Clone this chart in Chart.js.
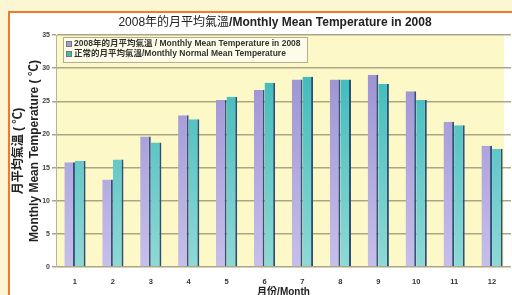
<!DOCTYPE html>
<html>
<head>
<meta charset="utf-8">
<script src="https://cdn.jsdelivr.net/npm/chart.js@4.4.0/dist/chart.umd.min.js"></script>
<style>
    html, body { margin: 0; padding: 0; overflow: hidden; background: #FDF6D3; }
    #wrap { position: relative; width: 512px; height: 305px; }
</style>
</head>
<body>
<div id="wrap"><canvas id="myChart"></canvas></div>
<script>
// Dữ liệu
const months = ['1', '2', '3', '4', '5', '6', '7', '8', '9', '10', '11', '12'];
const temp2008 = [15.8, 13.2, 19.7, 22.9, 25.2, 26.7, 28.3, 28.3, 29.0, 26.5, 21.9, 18.3];
const tempNormal = [16.0, 16.2, 18.8, 22.3, 25.7, 27.8, 28.7, 28.3, 27.6, 25.2, 21.4, 17.8];
const label2008 = '2008年的月平均氣溫 / Monthly Mean Temperature in 2008';
const labelNormal = '正常的月平均氣溫/Monthly Normal Mean Temperature';
const titleZh = '2008年的月平均氣溫';
const titleEn = '/Monthly Mean Temperature in 2008';
const yTitle = ['月平均氣溫 ( ℃)', 'Monthly Mean Temperature ( ℃)'];
const xTitle = '月份/Month';

const FONT = '"Liberation Sans", "Noto Sans CJK TC", Arial, sans-serif';
Chart.defaults.font.family = FONT;
Chart.defaults.color = '#333';

// Màu gradient cho cột
function barGradient(top, bottom) {
    return function (context) {
        let chart = context.chart;
        let area = chart.chartArea;
        if (!area) return top;
        let g = chart.ctx.createLinearGradient(0, area.top, 0, area.bottom);
        g.addColorStop(0, top);
        g.addColorStop(1, bottom);
        return g;
    };
}

// Nền, khung cam, tiêu đề và chú thích
const decorPlugin = {
    id: 'decor',
    beforeDraw(chart) {
        const c = chart.ctx;
        const a = chart.chartArea;
        c.save();
        c.fillStyle = '#FDF6D3';
        c.fillRect(0, 0, chart.width, chart.height);
        c.fillStyle = '#FFFFFF';
        c.fillRect(10, 13, chart.width - 10, chart.height - 13);
        c.strokeStyle = '#F07A2C';
        c.lineWidth = 2;
        c.beginPath();
        c.moveTo(9, chart.height);
        c.lineTo(9, 12);
        c.lineTo(chart.width, 12);
        c.stroke();
        c.fillStyle = '#FCF8C8';
        c.fillRect(a.left, a.top, 504 - a.left, a.bottom - a.top);
        c.restore();
    },
    afterDraw(chart) {
        const c = chart.ctx;
        c.save();
        // Tiêu đề
        c.textBaseline = 'middle';
        c.fillStyle = '#222';
        c.font = '12px ' + FONT;
        let w1 = c.measureText(titleZh).width;
        c.font = 'bold 12px ' + FONT;
        let w2 = c.measureText(titleEn).width;
        let x0 = 275 - (w1 + w2) / 2;
        c.font = '12px ' + FONT;
        c.fillText(titleZh, x0, 23);
        c.font = 'bold 12px ' + FONT;
        c.fillText(titleEn, x0 + w1, 23);

        // Chú thích
        c.fillStyle = '#FEFCE8';
        c.fillRect(63, 37, 244, 25);
        c.strokeStyle = '#B5B08C';
        c.lineWidth = 1;
        c.strokeRect(63.5, 37.5, 244, 25);
        const swatches = ['#A69BD6', '#3FBFAE'];
        chart.data.datasets.forEach(function (ds, i) {
            let y = 44 + i * 10;
            c.fillStyle = swatches[i];
            c.fillRect(66, y - 3, 6, 6);
            c.strokeStyle = '#777';
            c.strokeRect(66.5, y - 2.5, 5, 5);
            c.fillStyle = '#333';
            c.font = 'bold 8.5px ' + FONT;
            c.fillText(ds.label, 74, y);
        });
        c.restore();
    }
};

const ctx = document.getElementById('myChart');
const myChart = new Chart(ctx, {
    type: 'bar',
    data: {
        labels: months,
        datasets: [{
            label: label2008,
            data: temp2008,
            backgroundColor: barGradient('#978BD0', '#C6BFEA'),
            borderColor: '#34507E',
            borderWidth: { top: 0, right: 2, bottom: 0, left: 0 },
            borderSkipped: false
        }, {
            label: labelNormal,
            data: tempNormal,
            backgroundColor: barGradient('#30B6B8', '#8ED9D6'),
            borderColor: '#2E4F72',
            borderWidth: { top: 0, right: 2, bottom: 0, left: 0 },
            borderSkipped: false
        }]
    },
    options: {
        responsive: true,
        maintainAspectRatio: false,
        animation: false,
        layout: { padding: { top: 35, right: 1, left: 0, bottom: 0 } },
        categoryPercentage: 0.56,
        barPercentage: 1.0,
        plugins: {
            legend: { display: false },
            title: { display: false },
            tooltip: { enabled: false }
        },
        scales: {
            x: {
                grid: { display: false, drawTicks: false },
                border: { display: false },
                ticks: { padding: 10, font: { size: 7.5, weight: 'bold' }, color: '#333' },
                title: {
                    display: true,
                    text: xTitle,
                    font: { size: 10, weight: 'bold' },
                    color: '#222',
                    padding: { top: 0, bottom: 7 }
                },
                afterFit: function (scale) { scale.height = 38; }
            },
            y: {
                min: 0,
                max: 35,
                ticks: { stepSize: 5, padding: 2, font: { size: 7, weight: 'bold' }, color: '#444' },
                grid: { color: '#ABA585', lineWidth: 1.5, tickLength: 4 },
                border: { display: true, color: '#B8B498', width: 1 },
                title: {
                    display: true,
                    text: yTitle,
                    font: { size: 12, weight: 'bold', lineHeight: 1.34 },
                    color: '#222',
                    padding: { top: 11, bottom: 0 }
                },
                afterFit: function (scale) { scale.width = 56; }
            }
        }
    },
    plugins: [decorPlugin]
});
</script>
</body>
</html>
